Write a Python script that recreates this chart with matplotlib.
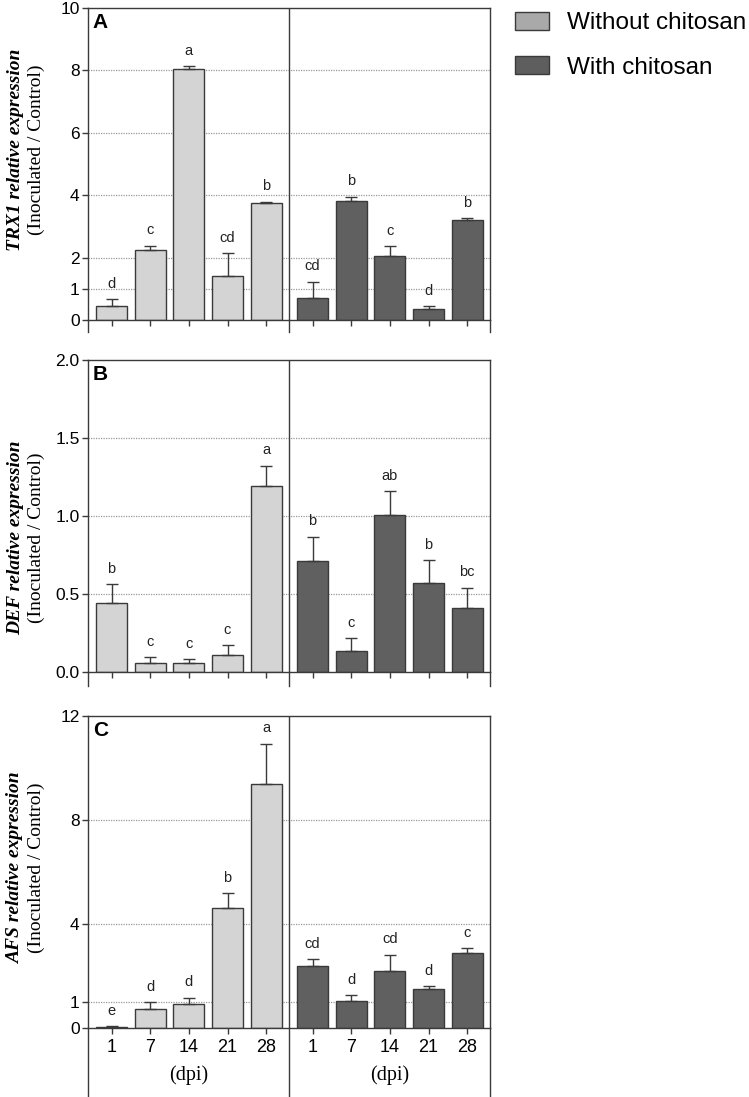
import matplotlib
matplotlib.use("Agg")
import matplotlib.pyplot as plt
from matplotlib.lines import Line2D
from matplotlib.patches import Patch

days = ["1", "7", "14", "21", "28"]

# Panel A: TRX1
trx_without = [0.45, 2.24, 8.04, 1.41, 3.75]
trx_without_err = [0.22, 0.14, 0.10, 0.73, 0.04]
trx_with = [0.70, 3.80, 2.06, 0.34, 3.21]
trx_with_err = [0.53, 0.15, 0.31, 0.10, 0.06]
trx_letters_without = ["d", "c", "a", "cd", "b"]
trx_letters_with = ["cd", "b", "c", "d", "b"]

# Panel B: DEF
def_without = [0.442, 0.062, 0.058, 0.109, 1.191]
def_without_err = [0.124, 0.034, 0.027, 0.066, 0.132]
def_with = [0.711, 0.139, 1.005, 0.570, 0.414]
def_with_err = [0.158, 0.079, 0.154, 0.149, 0.128]
def_letters_without = ["b", "c", "c", "c", "a"]
def_letters_with = ["b", "c", "ab", "b", "bc"]

# Panel C: AFS
afs_without = [0.04, 0.76, 0.94, 4.64, 9.40]
afs_without_err = [0.04, 0.24, 0.24, 0.56, 1.54]
afs_with = [2.41, 1.04, 2.20, 1.52, 2.88]
afs_with_err = [0.24, 0.23, 0.63, 0.09, 0.19]
afs_letters_without = ["e", "d", "d", "b", "a"]
afs_letters_with = ["cd", "d", "cd", "d", "c"]

LIGHT = "#d4d4d4"
DARK = "#606060"
EDGE = "#3a3a3a"
SANS = "Liberation Sans"
SERIF = "Liberation Serif"

W, H = 749, 1097
fig = plt.figure(figsize=(W / 100, H / 100), dpi=100)

x1 = [0, 1, 2, 3, 4]
x2 = [5.2, 6.2, 7.2, 8.2, 9.2]
divider = 4.6
xlim = (-0.61, 9.79)

panels = [
    dict(top=8, bottom=320, ext=332, ylim=(0, 10), yticks=[0, 1, 2, 4, 6, 8, 10],
         ylabels=["0", "1", "2", "4", "6", "8", "10"], grid=[1, 2, 4, 6, 8],
         a=trx_without, ae=trx_without_err, b=trx_with, be=trx_with_err,
         la=trx_letters_without, lb=trx_letters_with, tag="A", gene="TRX1",
         lab_y=150),
    dict(top=360, bottom=672.3, ext=686, ylim=(0, 2.0), yticks=[0, 0.5, 1.0, 1.5, 2.0],
         ylabels=["0.0", "0.5", "1.0", "1.5", "2.0"], grid=[0.5, 1.0, 1.5],
         a=def_without, ae=def_without_err, b=def_with, be=def_with_err,
         la=def_letters_without, lb=def_letters_with, tag="B", gene="DEF",
         lab_y=538),
    dict(top=716, bottom=1028.3, ext=1097, ylim=(0, 12), yticks=[0, 1, 4, 8, 12],
         ylabels=["0", "1", "4", "8", "12"], grid=[1, 4, 8],
         a=afs_without, ae=afs_without_err, b=afs_with, be=afs_with_err,
         la=afs_letters_without, lb=afs_letters_with, tag="C", gene="AFS",
         lab_y=868),
]

left_px, right_px = 88, 490
for i, p in enumerate(panels):
    ax = fig.add_axes([left_px / W, 1 - p["bottom"] / H,
                       (right_px - left_px) / W, (p["bottom"] - p["top"]) / H])
    ax.set_xlim(*xlim)
    ax.set_ylim(*p["ylim"])
    for g in p["grid"]:
        ax.axhline(g, color="#9a9a9a", lw=0.9, ls=(0, (1, 1)), zorder=0.5)
    ax.bar(x1, p["a"], width=0.8, color=LIGHT, edgecolor=EDGE, linewidth=1.0, zorder=2)
    ax.bar(x2, p["b"], width=0.8, color=DARK, edgecolor=EDGE, linewidth=1.0, zorder=2)
    ax.errorbar(x1, p["a"], yerr=[[0] * 5, p["ae"]], fmt="none", ecolor=EDGE,
                elinewidth=1.0, capsize=4.2, capthick=1.0, zorder=3)
    ax.errorbar(x2, p["b"], yerr=[[0] * 5, p["be"]], fmt="none", ecolor=EDGE,
                elinewidth=1.0, capsize=4.2, capthick=1.0, zorder=3)
    for xs, vals, errs, lets in ((x1, p["a"], p["ae"], p["la"]), (x2, p["b"], p["be"], p["lb"])):
        for xx, v, e, t in zip(xs, vals, errs, lets):
            ax.annotate(t, (xx, v + e), xytext=(0, 6), textcoords="offset points",
                        ha="center", va="bottom", fontsize=10.5, family=SANS, color="#222222")
    ax.axvline(divider, color=EDGE, lw=1.0, zorder=4)
    for sp in ax.spines.values():
        sp.set_color(EDGE)
        sp.set_linewidth(1.0)
    # extend vertical lines below x axis
    ext_frac = -(p["ext"] - p["bottom"]) / (p["bottom"] - p["top"])
    tr = ax.get_xaxis_transform()
    for xv in (xlim[0], divider, xlim[1]):
        ax.add_line(Line2D([xv, xv], [0, ext_frac], transform=tr, color=EDGE,
                           lw=1.0, clip_on=False))
    ax.set_yticks(p["yticks"])
    ax.set_yticklabels(p["ylabels"], fontsize=12.5, family=SANS)
    ax.tick_params(axis="y", direction="out", length=4, width=1.0, color=EDGE, pad=2)
    ax.set_xticks(x1 + x2)
    if i == 2:
        ax.set_xticklabels(days + days, fontsize=13, family=SANS)
        for xc in ((x1[0] + x1[-1]) / 2, (x2[0] + x2[-1]) / 2):
            ax.text(xc, -(1075 - p["bottom"]) / (p["bottom"] - p["top"]), "(dpi)",
                    transform=tr, ha="center", va="center", fontsize=14.5, family=SERIF)
    else:
        ax.set_xticklabels([])
    ax.tick_params(axis="x", direction="out", length=4, width=1.0, color=EDGE, pad=4)
    ax.text(0.012, 0.985, p["tag"], transform=ax.transAxes, ha="left", va="top",
            fontsize=15, fontweight="bold", family=SANS)
    # y labels
    fig.text(16 / W, 1 - p["lab_y"] / H, p["gene"] + " relative expression",
             rotation=90, ha="center", va="center", fontsize=14,
             family=SERIF, fontweight="bold", style="italic")
    fig.text(36 / W, 1 - p["lab_y"] / H, "(Inoculated / Control)",
             rotation=90, ha="center", va="center", fontsize=14, family=SERIF)

handles = [Patch(facecolor="#a9a9a9", edgecolor=EDGE, lw=1.0, label="Without chitosan"),
           Patch(facecolor="#5e5e5e", edgecolor=EDGE, lw=1.0, label="With chitosan")]
fig.legend(handles=handles, loc="upper left", bbox_to_anchor=(515 / W, 1 - 12 / H),
           frameon=False, prop={"family": SANS, "size": 17.5}, handlelength=1.4,
           handleheight=0.76, handletextpad=0.72, labelspacing=0.9, borderaxespad=0,
           borderpad=0)

fig.savefig("out.png", dpi=100)
